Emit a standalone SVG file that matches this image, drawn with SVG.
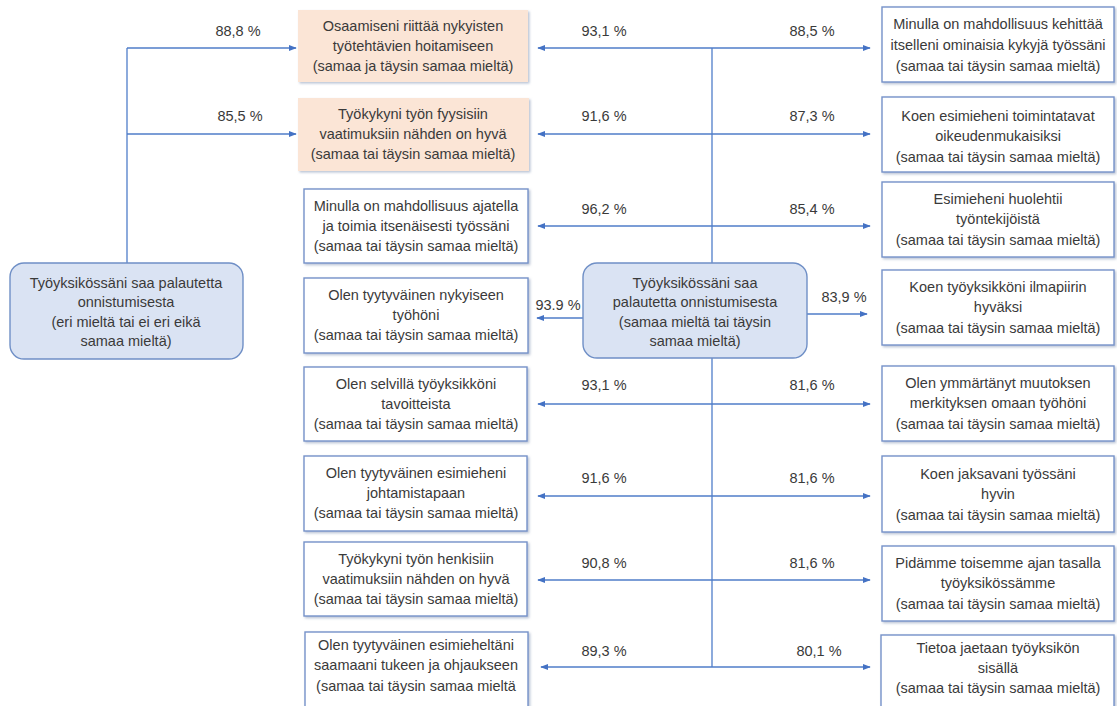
<svg xmlns="http://www.w3.org/2000/svg" width="1117" height="706" viewBox="0 0 1117 706">
  <style>
    text { font-family: "Liberation Sans", Arial, sans-serif; font-size: 14.5px; fill: #3a3a3a; text-anchor: middle; }
    .box { fill: #ffffff; stroke: #7692c9; stroke-width: 1.4; filter: url(#shadow); }
    .warm { fill: #fbe5d6; stroke: none; filter: url(#shadow); }
    .hub { fill: #dae3f3; stroke: #6f8fc6; stroke-width: 1.4; }
    .link { fill: none; stroke: #4f7dc9; stroke-width: 1.3; }
    .arrow { marker-end: url(#head); }
    .both { marker-start: url(#head); marker-end: url(#head); }
  </style>
  <defs>
    <marker id="head" viewBox="0 0 10 10" refX="9" refY="5" markerWidth="8" markerHeight="8" markerUnits="userSpaceOnUse" orient="auto-start-reverse">
      <path d="M0,1 L10,5 L0,9 Z" fill="#4472c4"/>
    </marker>
    <filter id="shadow" x="-5%" y="-5%" width="112%" height="115%">
      <feDropShadow dx="1.5" dy="1.5" stdDeviation="0.8" flood-color="#8a9bb8" flood-opacity="0.6"/>
    </filter>
  </defs>
  <rect width="1117" height="706" fill="#ffffff"/>

  <!-- connectors -->
  <g id="connectors">
    <!-- left trunk -->
    <path class="link" d="M127,263 V48"/>
    <path class="link arrow" d="M127,48 H296"/>
    <path class="link arrow" d="M127,134 H296"/>
    <!-- central trunk -->
    <path class="link" d="M712,48 V263"/>
    <path class="link" d="M712,358 V667"/>
    <path class="link both" d="M538,48 H870"/>
    <path class="link both" d="M538,134 H870"/>
    <path class="link both" d="M538,226 H870"/>
    <path class="link arrow" d="M583,318 H537"/>
    <path class="link arrow" d="M807,314 H867"/>
    <path class="link both" d="M538,404 H870"/>
    <path class="link both" d="M538,496 H870"/>
    <path class="link both" d="M538,580 H870"/>
    <path class="link both" d="M541,667 H870"/>
    <!-- percentages -->
    <text x="238" y="36">88,8 %</text>
    <text x="240" y="121">85,5 %</text>
    <text x="604" y="36">93,1 %</text>
    <text x="812" y="36">88,5 %</text>
    <text x="604" y="121">91,6 %</text>
    <text x="812" y="121">87,3 %</text>
    <text x="604" y="214">96,2 %</text>
    <text x="812" y="214">85,4 %</text>
    <text x="558" y="310">93.9 %</text>
    <text x="844" y="302">83,9 %</text>
    <text x="604" y="390">93,1 %</text>
    <text x="812" y="390">81,6 %</text>
    <text x="604" y="483">91,6 %</text>
    <text x="812" y="483">81,6 %</text>
    <text x="604" y="568">90,8 %</text>
    <text x="812" y="568">81,6 %</text>
    <text x="604" y="656">89,3 %</text>
    <text x="819" y="656">80,1 %</text>
  </g>

  <!-- hub nodes -->
  <g id="feedback-low">
    <rect class="hub" x="10" y="263" width="233" height="96" rx="14"/>
    <text x="126" y="288">Työyksikössäni saa palautetta</text>
    <text x="126" y="307">onnistumisesta</text>
    <text x="126" y="327">(eri mieltä tai ei eri eikä</text>
    <text x="126" y="346">samaa mieltä)</text>
  </g>
  <g id="feedback-high">
    <rect class="hub" x="583" y="263" width="224" height="95" rx="14"/>
    <text x="695" y="288">Työyksikössäni saa</text>
    <text x="695" y="307">palautetta onnistumisesta</text>
    <text x="695" y="327">(samaa mieltä tai täysin</text>
    <text x="695" y="346">samaa mieltä)</text>
  </g>

  <!-- middle column -->
  <g id="m1">
    <rect class="warm" x="298" y="10" width="230" height="72"/>
    <text x="413" y="31">Osaamiseni riittää nykyisten</text>
    <text x="413" y="51">työtehtävien hoitamiseen</text>
    <text x="413" y="71">(samaa ja täysin samaa mieltä)</text>
  </g>
  <g id="m2">
    <rect class="warm" x="298" y="98" width="231" height="73"/>
    <text x="413" y="119">Työkykyni työn fyysisiin</text>
    <text x="413" y="139">vaatimuksiin nähden on hyvä</text>
    <text x="413" y="159">(samaa tai täysin samaa mieltä)</text>
  </g>
  <g id="m3">
    <rect class="box" x="304" y="189" width="224" height="74"/>
    <text x="416" y="211">Minulla on mahdollisuus ajatella</text>
    <text x="416" y="231">ja toimia itsenäisesti työssäni</text>
    <text x="416" y="251">(samaa tai täysin samaa mieltä)</text>
  </g>
  <g id="m4">
    <rect class="box" x="304" y="278" width="224" height="75"/>
    <text x="416" y="300">Olen tyytyväinen nykyiseen</text>
    <text x="416" y="320">työhöni</text>
    <text x="416" y="340">(samaa tai täysin samaa mieltä)</text>
  </g>
  <g id="m5">
    <rect class="box" x="304" y="367" width="223" height="74"/>
    <text x="416" y="389">Olen selvillä työyksikköni</text>
    <text x="416" y="409">tavoitteista</text>
    <text x="416" y="429">(samaa tai täysin samaa mieltä)</text>
  </g>
  <g id="m6">
    <rect class="box" x="304" y="456" width="223" height="75"/>
    <text x="416" y="478">Olen tyytyväinen esimieheni</text>
    <text x="416" y="498">johtamistapaan</text>
    <text x="416" y="518">(samaa tai täysin samaa mieltä)</text>
  </g>
  <g id="m7">
    <rect class="box" x="304" y="542" width="223" height="74"/>
    <text x="416" y="564">Työkykyni työn henkisiin</text>
    <text x="416" y="584">vaatimuksiin nähden on hyvä</text>
    <text x="416" y="604">(samaa tai täysin samaa mieltä)</text>
  </g>
  <g id="m8">
    <rect class="box" x="305" y="632" width="223" height="84"/>
    <text x="416" y="650">Olen tyytyväinen esimieheltäni</text>
    <text x="416" y="670">saamaani tukeen ja ohjaukseen</text>
    <text x="416" y="691">(samaa tai täysin samaa mieltä</text>
  </g>

  <!-- right column -->
  <g id="r1">
    <rect class="box" x="882" y="7" width="232" height="75"/>
    <text x="998" y="29">Minulla on mahdollisuus kehittää</text>
    <text x="998" y="50">itselleni ominaisia kykyjä työssäni</text>
    <text x="998" y="71">(samaa tai täysin samaa mieltä)</text>
  </g>
  <g id="r2">
    <rect class="box" x="882" y="97" width="232" height="75"/>
    <text x="998" y="121">Koen esimieheni toimintatavat</text>
    <text x="998" y="141">oikeudenmukaisiksi</text>
    <text x="998" y="162">(samaa tai täysin samaa mieltä)</text>
  </g>
  <g id="r3">
    <rect class="box" x="882" y="182" width="232" height="75"/>
    <text x="998" y="204">Esimieheni huolehtii</text>
    <text x="998" y="224">työntekijöistä</text>
    <text x="998" y="245">(samaa tai täysin samaa mieltä)</text>
  </g>
  <g id="r4">
    <rect class="box" x="882" y="270" width="232" height="75"/>
    <text x="998" y="292">Koen työyksikköni ilmapiirin</text>
    <text x="998" y="312">hyväksi</text>
    <text x="998" y="333">(samaa tai täysin samaa mieltä)</text>
  </g>
  <g id="r5">
    <rect class="box" x="882" y="366" width="232" height="75"/>
    <text x="998" y="388">Olen ymmärtänyt muutoksen</text>
    <text x="998" y="408">merkityksen omaan työhöni</text>
    <text x="998" y="429">(samaa tai täysin samaa mieltä)</text>
  </g>
  <g id="r6">
    <rect class="box" x="882" y="456" width="232" height="76"/>
    <text x="998" y="479">Koen jaksavani työssäni</text>
    <text x="998" y="499">hyvin</text>
    <text x="998" y="520">(samaa tai täysin samaa mieltä)</text>
  </g>
  <g id="r7">
    <rect class="box" x="882" y="546" width="232" height="75"/>
    <text x="998" y="568">Pidämme toisemme ajan tasalla</text>
    <text x="998" y="588">työyksikössämme</text>
    <text x="998" y="609">(samaa tai täysin samaa mieltä)</text>
  </g>
  <g id="r8">
    <rect class="box" x="881" y="635" width="233" height="84"/>
    <text x="998" y="653">Tietoa jaetaan työyksikön</text>
    <text x="998" y="673">sisällä</text>
    <text x="998" y="693">(samaa tai täysin samaa mieltä)</text>
  </g>
</svg>
